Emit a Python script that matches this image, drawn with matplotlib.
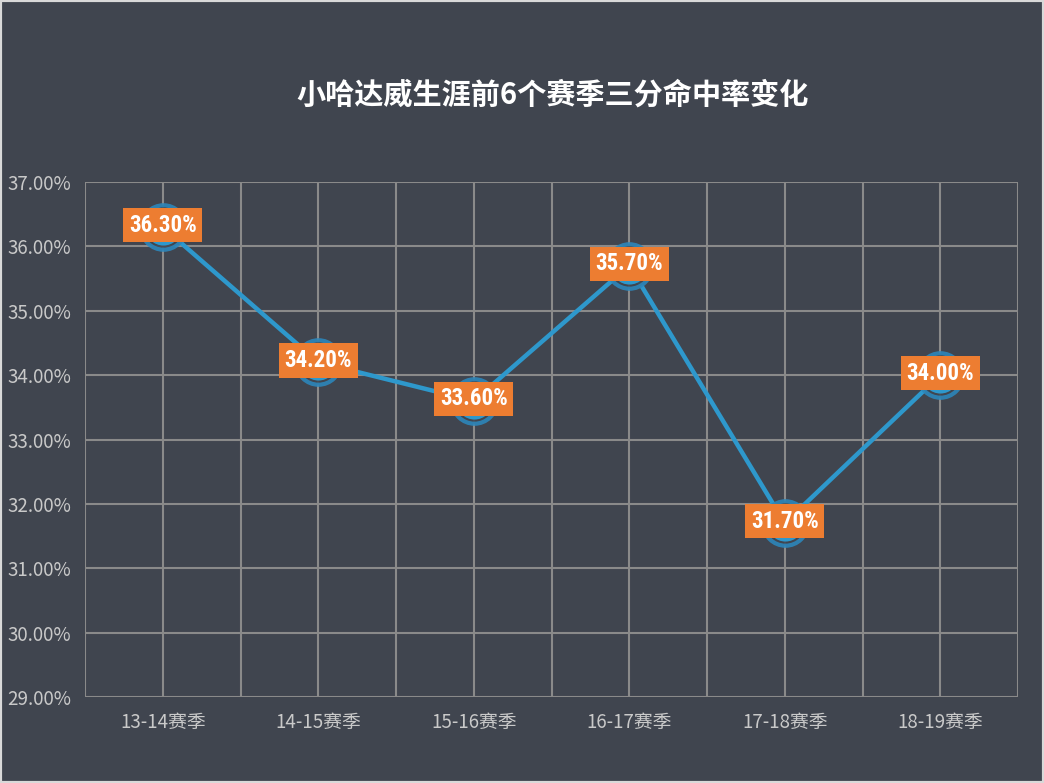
import matplotlib
matplotlib.use("Agg")
import matplotlib.pyplot as plt
from matplotlib.ticker import FuncFormatter, MultipleLocator
from matplotlib.patches import Rectangle

plt.rcParams['font.family'] = ['Noto Sans CJK SC', 'DejaVu Sans']

seasons = ["13-14赛季", "14-15赛季", "15-16赛季", "16-17赛季", "17-18赛季", "18-19赛季"]
pct = [36.3, 34.2, 33.6, 35.7, 31.7, 34.0]
title = "小哈达威生涯前6个赛季三分命中率变化"

bg = "#40454f"
grid_c = "#8a8a8a"
line_c = "#2e98cc"
ring_c = "#2d86ba"
label_c = "#ed7d31"
tick_c = "#c9c9c9"

fig = plt.figure(figsize=(10.44, 7.83), dpi=100, facecolor=bg)
fig.patches.append(Rectangle((0, 0), 1, 1, transform=fig.transFigure,
                             fill=False, edgecolor="#d9d9d9", linewidth=3, zorder=10))
ax = fig.add_axes([85/1044, 1-697/783, (1018-85)/1044, (697-182)/783])
ax.set_facecolor(bg)

x = list(range(len(seasons)))
ax.set_xlim(-0.5, len(seasons) - 0.5)
ax.set_ylim(29, 37)
ax.yaxis.set_major_locator(MultipleLocator(1))
ax.yaxis.set_major_formatter(FuncFormatter(lambda v, p: f"{v:.2f}%"))
ax.set_xticks(x)
ax.set_xticklabels(seasons)

# grid lines at category centers and boundaries
for xi in [i * 0.5 - 0.5 for i in range(2 * len(seasons) + 1)]:
    ax.axvline(xi, color=grid_c, linewidth=1.5, zorder=1)
for yv in range(29, 38):
    ax.axhline(yv, color=grid_c, linewidth=1.5, zorder=1)

for s in ax.spines.values():
    s.set_visible(False)
ax.tick_params(axis='y', length=0, colors=tick_c, labelsize=13.5, pad=10)
ax.tick_params(axis='x', length=0, colors=tick_c, labelsize=13.5, pad=11)

ax.plot(x, pct, color=line_c, linewidth=3.2, zorder=3, solid_capstyle='round')
# outer ring
ax.plot(x, pct, linestyle='none', marker='o', markersize=32, markerfacecolor=bg,
        markeredgecolor=ring_c, markeredgewidth=3.0, alpha=0.9, zorder=4)
ax.plot(x, pct, linestyle='none', marker='o', markersize=26, markerfacecolor=line_c,
        markeredgecolor='none', zorder=5)

for xi, v in zip(x, pct):
    ax.text(xi, v + 0.03, f"{v:.2f}%", ha='center', va='center', color='white',
            fontsize=16.5, fontweight='bold', fontstretch='condensed',
            family=['Roboto Condensed', 'DejaVu Sans'], zorder=6,
            bbox=dict(boxstyle='square,pad=0.25', facecolor=label_c, edgecolor='none'))

fig.text(553/1044, 1-95/783, title, ha='center', va='center', color='white',
         fontsize=21, fontweight='bold')

fig.savefig("out.png", dpi=100, facecolor=bg)
